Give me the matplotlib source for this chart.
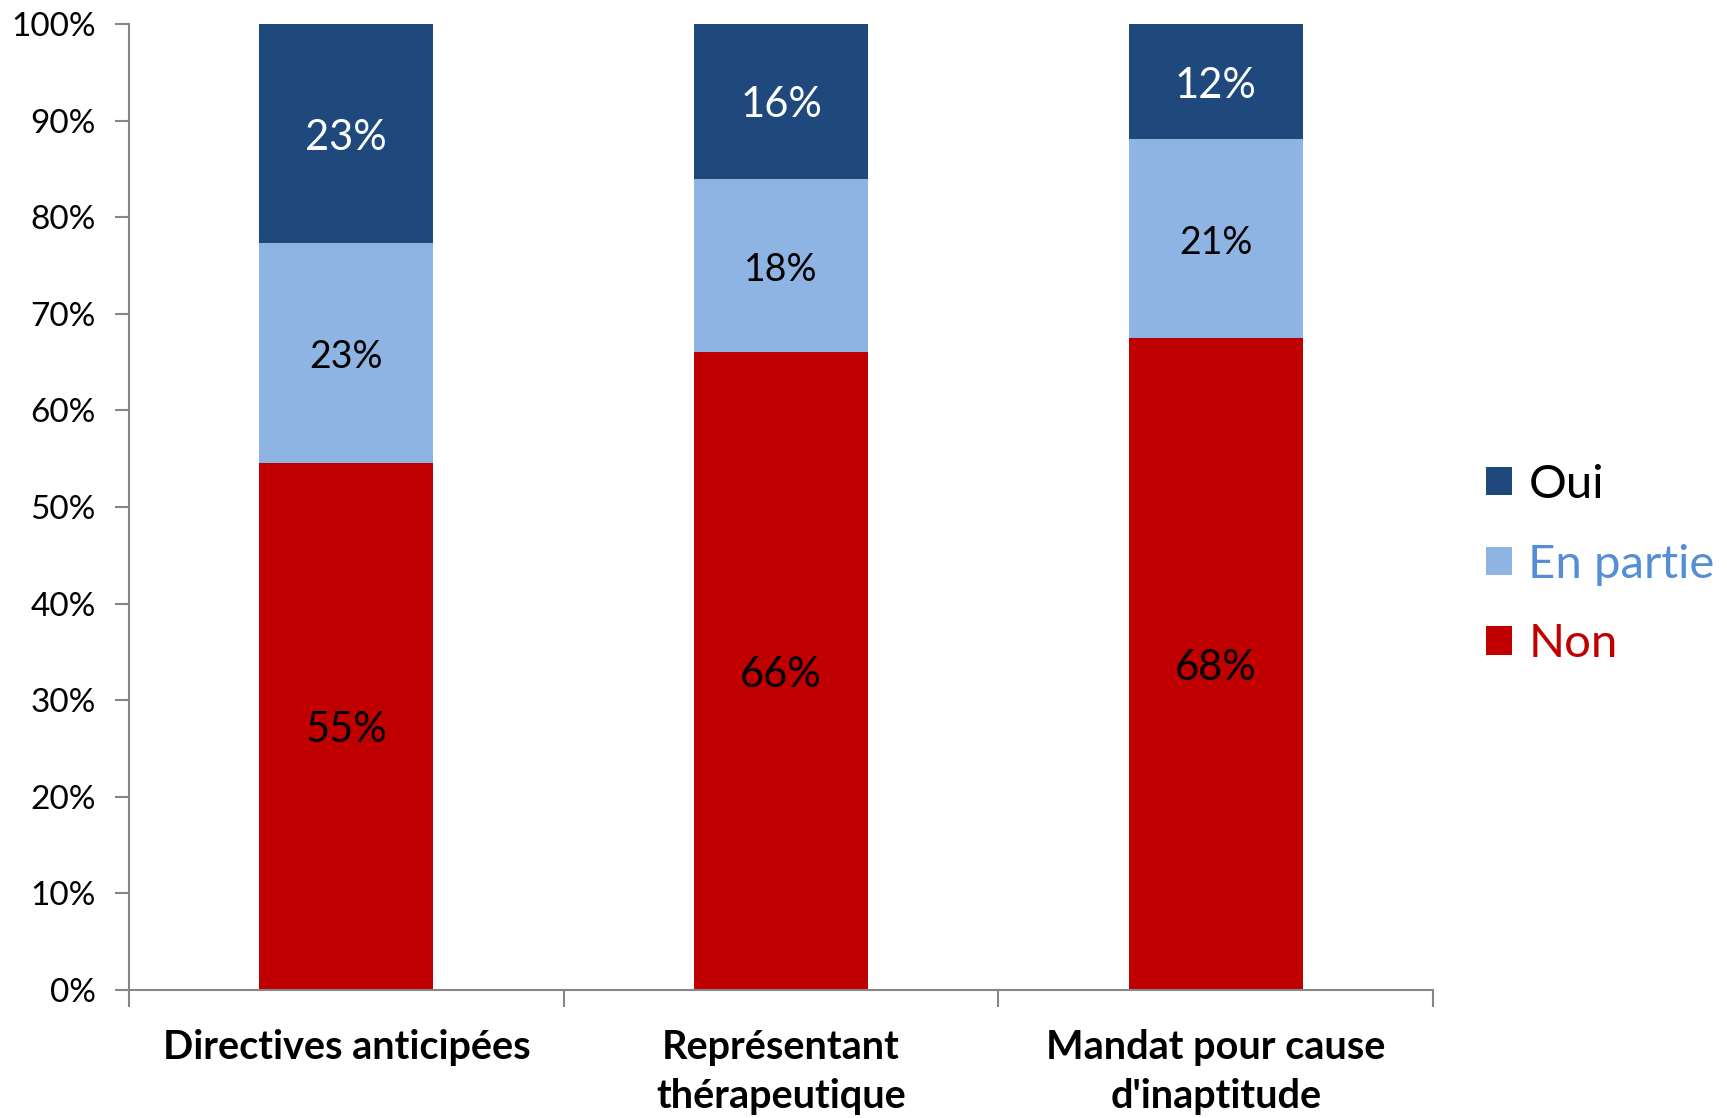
import matplotlib
matplotlib.use("Agg")
import matplotlib.pyplot as plt
from matplotlib.patches import Patch
from matplotlib.ticker import FixedLocator, FuncFormatter

plt.rcParams['font.family'] = ['Lato', 'DejaVu Sans']

categories = ["Directives anticipées", "Représentant\nthérapeutique", "Mandat pour cause\nd'inaptitude"]
non = [54.6, 66.0, 67.5]
en_partie = [22.7, 18.0, 20.6]
oui = [22.7, 16.0, 11.9]
series_names = ["Non", "En partie", "Oui"]
colors = {"Non": "#C00000", "En partie": "#8EB4E3", "Oui": "#1F497D"}
label_colors = {"Non": "black", "En partie": "black", "Oui": "white"}
label_sizes = {"Non": 30, "En partie": 27, "Oui": 30}
legend_text_colors = {"Oui": "black", "En partie": "#558ED5", "Non": "#C00000"}

fig = plt.figure(figsize=(17.27, 11.18), dpi=100)
ax = fig.add_axes([0.0747, 0.1145, 0.7551, 0.864])

x = list(range(len(categories)))
bottom = [0.0] * len(categories)
data = {"Non": non, "En partie": en_partie, "Oui": oui}
for name in series_names:
    vals = data[name]
    ax.bar(x, vals, width=0.4, bottom=bottom, color=colors[name], linewidth=0)
    for xi, b, v in zip(x, bottom, vals):
        ax.annotate(f"{v:.0f}%", xy=(xi, b + v / 2), xytext=(0, -3), textcoords="offset points",
                    ha="center", va="center",
                    color=label_colors[name], fontsize=label_sizes[name])
    bottom = [b + v for b, v in zip(bottom, vals)]

ax.set_xlim(-0.5, 2.5)
ax.set_ylim(0, 100)
ax.yaxis.set_major_locator(FixedLocator(list(range(0, 101, 10))))
ax.yaxis.set_major_formatter(FuncFormatter(lambda v, p: f"{v:.0f}%"))
ax.set_xticks(x)
ax.set_xticklabels(categories, fontsize=28.5, fontweight="bold", linespacing=1.42)
ax.set_xticks([-0.5, 0.5, 1.5, 2.5], minor=True)
ax.tick_params(axis="x", which="major", length=0, pad=28)
ax.tick_params(axis="x", which="minor", length=12, width=1.5, color="#868686", direction="out")
ax.tick_params(axis="y", length=10, width=1.5, color="#868686", labelsize=24, pad=14, direction="out")
for s in ["top", "right"]:
    ax.spines[s].set_visible(False)
for s in ["left", "bottom"]:
    ax.spines[s].set_color("#868686")
    ax.spines[s].set_linewidth(1.5)

leg_order = ["Oui", "En partie", "Non"]
handles = [Patch(facecolor=colors[n], edgecolor="none") for n in leg_order]
leg = fig.legend(handles, leg_order, loc="center left", bbox_to_anchor=(0.8495, 0.495),
                 frameon=False, fontsize=34, handlelength=0.55, handleheight=0.55,
                 handletextpad=0.35, labelspacing=0.8, borderaxespad=0)
for t, n in zip(leg.get_texts(), leg_order):
    t.set_color(legend_text_colors[n])

fig.savefig("out.png", dpi=100)
